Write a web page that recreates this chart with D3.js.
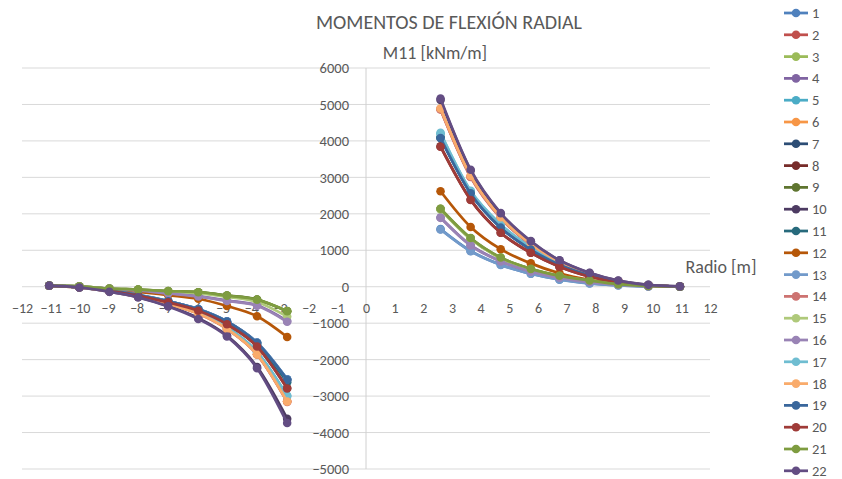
<!DOCTYPE html>
<html>
<head>
<meta charset="utf-8">
<script src="https://cdn.jsdelivr.net/npm/d3@7/dist/d3.min.js"></script>
<style>
  html, body { margin: 0; padding: 0; background: #fff; }
  svg text { font-family: Carlito, Calibri, Lato, "Open Sans", sans-serif; fill: #595959; }
</style>
</head>
<body>
<svg id="chart" width="842" height="479"></svg>
<script>
// Radial stations (m): one branch on each side of the axis
const radiiLeft  = [-11.05, -10.0, -8.95, -7.95, -6.9, -5.85, -4.85, -3.8, -2.75];
const radiiRight = [2.6, 3.65, 4.7, 5.75, 6.75, 7.8, 8.8, 9.85, 10.95];

const seriesNames = ["1","2","3","4","5","6","7","8","9","10","11",
                     "12","13","14","15","16","17","18","19","20","21","22"];

const seriesColors = ["#4F81BD","#C0504D","#9BBB59","#8064A2","#4BACC6","#F79646",
                      "#2C4D75","#772C2A","#5F7530","#4D3B62","#276A7C","#B65708",
                      "#729ACA","#CD7371","#AFC97A","#9983B5","#6FBDD1","#F9AB6B",
                      "#3A679C","#9F3B38","#7E9C40","#634D83"];

// M11 [kNm/m] on the left branch (radiiLeft order)
const momentsLeft = [
  [25, -10, -100, -225, -395, -610, -950, -1530, -2540],
  [25, -15, -120, -270, -470, -730, -1150, -1850, -3140],
  [30, 10, -50, -80, -125, -150, -245, -355, -675],
  [30, 5, -60, -110, -180, -260, -380, -510, -940],
  [25, -15, -120, -265, -455, -705, -1110, -1790, -2990],
  [25, -15, -120, -270, -470, -730, -1150, -1850, -3150],
  [25, -10, -100, -230, -400, -620, -960, -1540, -2550],
  [25, -10, -110, -250, -430, -660, -1030, -1640, -2780],
  [30, 10, -50, -80, -120, -150, -240, -350, -670],
  [30, -20, -135, -285, -530, -860, -1340, -2200, -3620],
  [25, -12, -105, -235, -410, -635, -985, -1580, -2620],
  [25, 0, -70, -140, -230, -330, -530, -810, -1380],
  [25, -10, -100, -225, -395, -610, -950, -1530, -2540],
  [25, -15, -125, -275, -475, -740, -1160, -1860, -3160],
  [30, 8, -55, -90, -140, -180, -280, -420, -820],
  [30, 5, -60, -110, -185, -265, -390, -520, -960],
  [25, -15, -120, -270, -460, -710, -1120, -1800, -3000],
  [25, -15, -122, -272, -472, -735, -1155, -1855, -3150],
  [25, -10, -100, -230, -400, -620, -955, -1545, -2550],
  [25, -10, -110, -250, -430, -660, -1030, -1640, -2790],
  [30, 10, -50, -80, -120, -150, -245, -355, -670],
  [30, -20, -140, -290, -540, -885, -1365, -2235, -3740]
];

// M11 [kNm/m] on the right branch (radiiRight order)
const momentsRight = [
  [1580, 980, 605, 360, 200, 95, 40, 10, 0],
  [4870, 3020, 1890, 1160, 680, 350, 150, 40, 5],
  [2140, 1330, 795, 490, 300, 170, 70, 20, 3],
  [1900, 1140, 700, 420, 250, 130, 60, 15, 2],
  [4200, 2620, 1700, 1070, 620, 320, 140, 40, 5],
  [4880, 3030, 1900, 1170, 680, 350, 150, 40, 5],
  [4080, 2560, 1620, 1020, 600, 310, 130, 35, 5],
  [3850, 2390, 1480, 930, 550, 280, 120, 30, 5],
  [2130, 1320, 790, 485, 295, 165, 70, 20, 3],
  [5120, 3190, 2000, 1240, 720, 375, 165, 50, 8],
  [4100, 2580, 1640, 1030, 605, 315, 135, 38, 5],
  [2620, 1640, 1030, 640, 370, 190, 90, 30, 5],
  [1570, 975, 600, 355, 195, 90, 35, 10, 0],
  [4860, 3010, 1880, 1150, 670, 345, 148, 40, 5],
  [2120, 1310, 780, 480, 290, 165, 70, 20, 3],
  [1890, 1130, 695, 415, 245, 128, 58, 15, 2],
  [4220, 2630, 1710, 1075, 625, 322, 140, 40, 5],
  [4890, 3040, 1905, 1175, 685, 352, 150, 40, 5],
  [4080, 2560, 1620, 1020, 600, 310, 130, 35, 5],
  [3840, 2380, 1480, 930, 550, 280, 120, 30, 5],
  [2140, 1335, 800, 490, 300, 172, 70, 20, 3],
  [5160, 3210, 2020, 1250, 725, 380, 170, 52, 10]
];

const xTicks = d3.range(-12, 13, 1);
const yTicks = d3.range(-5000, 6001, 1000);

const svg = d3.select("#chart");

const x = d3.scaleLinear().domain([-12, 12]).range([22, 710]);
const y = d3.scaleLinear().domain([-5000, 6000]).range([469, 68]);

// Horizontal gridlines
svg.append("g").selectAll("line").data(yTicks).join("line")
  .attr("x1", x(-12)).attr("x2", x(12))
  .attr("y1", d => y(d)).attr("y2", d => y(d))
  .attr("stroke", "#d9d9d9").attr("stroke-width", 1);

// Vertical axis at x = 0
svg.append("line")
  .attr("x1", x(0)).attr("x2", x(0))
  .attr("y1", y(6000)).attr("y2", y(-5000))
  .attr("stroke", "#d0d0d0").attr("stroke-width", 1);

// Y tick labels
const yAxis = svg.append("g")
  .attr("transform", `translate(${x(0)},0)`)
  .call(d3.axisLeft(y).tickValues(yTicks).tickSize(0).tickPadding(17).tickFormat(d3.format("d")));
yAxis.select(".domain").remove();
yAxis.selectAll("text").attr("font-size", 14.5).style("font-family", null);

// X tick labels
const xAxis = svg.append("g")
  .attr("transform", `translate(0,${y(0)})`)
  .call(d3.axisBottom(x).tickValues(xTicks).tickSize(0).tickPadding(16).tickFormat(d3.format("d")));
xAxis.select(".domain").remove();
xAxis.selectAll("text").attr("font-size", 14).style("font-family", null);
svg.selectAll(".tick text").attr("fill", "#595959");

// Series lines with markers
const line = d3.line()
  .x(d => x(d[0])).y(d => y(d[1]))
  .curve(d3.curveCardinal.tension(0));

const plot = svg.append("g");
seriesNames.forEach((name, i) => {
  const left  = radiiLeft.map((r, k) => [r, momentsLeft[i][k]]);
  const right = radiiRight.map((r, k) => [r, momentsRight[i][k]]);
  const g = plot.append("g");
  [left, right].forEach(branch => {
    g.append("path").datum(branch)
      .attr("d", line)
      .attr("fill", "none")
      .attr("stroke", seriesColors[i])
      .attr("stroke-width", 2.75)
      .attr("stroke-linejoin", "round");
    g.selectAll(null).data(branch).join("circle")
      .attr("cx", d => x(d[0])).attr("cy", d => y(d[1]))
      .attr("r", 4.3)
      .attr("fill", seriesColors[i]);
  });
});

// Titles
svg.append("text")
  .attr("x", 449).attr("y", 29)
  .attr("text-anchor", "middle")
  .attr("font-size", 20)
  .text("MOMENTOS DE FLEXIÓN RADIAL");

svg.append("text")
  .attr("x", 435).attr("y", 59)
  .attr("text-anchor", "middle")
  .attr("font-size", 18)
  .text("M11 [kNm/m]");

svg.append("text")
  .attr("x", 721).attr("y", 273)
  .attr("text-anchor", "middle")
  .attr("font-size", 18)
  .text("Radio [m]");

// Legend
const legend = svg.append("g");
seriesNames.forEach((name, i) => {
  const ly = 13 + i * 21.8;
  legend.append("line")
    .attr("x1", 784).attr("x2", 808)
    .attr("y1", ly).attr("y2", ly)
    .attr("stroke", seriesColors[i]).attr("stroke-width", 2.75);
  legend.append("circle")
    .attr("cx", 796).attr("cy", ly).attr("r", 4.3)
    .attr("fill", seriesColors[i]);
  legend.append("text")
    .attr("x", 812).attr("y", ly)
    .attr("dy", "0.35em")
    .attr("font-size", 14.5)
    .text(name);
});
</script>
</body>
</html>
